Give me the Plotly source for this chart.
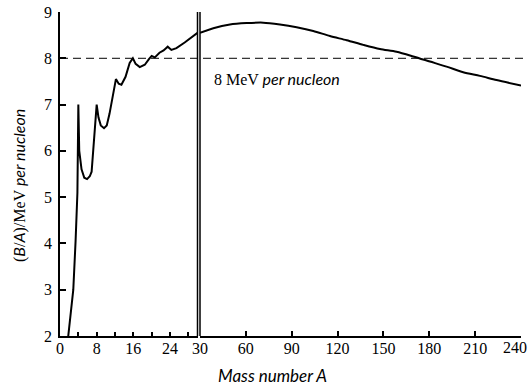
import plotly.graph_objects as go

# ---- data ----
light_A = [1.8, 2.9, 3.4, 3.8, 4.0, 4.2, 4.7, 5.3, 5.9, 6.5, 6.9, 7.6, 8.0, 8.4, 8.9, 9.6,
           10.2, 10.8, 11.6, 12.2, 12.8, 13.4, 14.3, 15.2, 15.9, 16.5, 17.4, 18.5, 19.4,
           20.0, 20.7, 21.7, 22.6, 23.5, 24.3, 25.4, 27.2, 29.0, 30.0]
light_BA = [2.0, 3.0, 4.05, 5.1, 7.0, 6.0, 5.6, 5.42, 5.39, 5.45, 5.55, 6.55, 7.0, 6.72, 6.55, 6.49,
            6.55, 6.8, 7.26, 7.55, 7.45, 7.43, 7.6, 7.9, 8.0, 7.88, 7.81, 7.86, 7.98,
            8.05, 8.02, 8.12, 8.17, 8.25, 8.18, 8.22, 8.34, 8.47, 8.55]

heavy_A = [30, 38.7, 49.6, 60.5, 71.4, 82.3, 93.2, 104.1, 115, 126, 136.8, 147.7, 158.6,
           169.5, 180.4, 191.3, 202.2, 213.1, 224, 240]
heavy_BA = [8.55, 8.65, 8.73, 8.76, 8.77, 8.73, 8.67, 8.59, 8.48, 8.39, 8.29, 8.20, 8.14,
            8.04, 7.93, 7.82, 7.70, 7.62, 7.53, 7.41]

reference_level = 8
left_ticks = [0, 4, 8, 12, 16, 20, 24, 28]
left_labels = ["0", "", "8", "", "16", "", "24", ""]
right_ticks = [30, 60, 90, 120, 150, 180, 210, 240]
right_labels = ["30", "60", "90", "120", "150", "180", "210", ""]   # 240 drawn separately
y_ticks = [2, 3, 4, 5, 6, 7, 8, 9]

SERIF = "Liberation Serif, Times New Roman, serif"
ITAL = "Lato"
TICKSIZE = 16

fig = go.Figure()
fig.add_trace(go.Scatter(x=light_A, y=light_BA, mode="lines", xaxis="x", yaxis="y",
                         line=dict(color="black", width=2), showlegend=False))
fig.add_trace(go.Scatter(x=heavy_A, y=heavy_BA, mode="lines", xaxis="x2", yaxis="y",
                         line=dict(color="black", width=2, shape="spline", smoothing=0.8),
                         showlegend=False))

W, H = 531, 388
L, R, T, B = 60, 10, 12, 52
pw = W - L - R
left_end = (197.5 - L) / pw
right_start = (200 - L) / pw

axis_common = dict(showgrid=False, zeroline=False, showline=True, linecolor="black",
                   linewidth=1.5, ticks="inside", tickcolor="black", tickwidth=1.5,
                   automargin=False,
                   tickfont=dict(family=SERIF, size=TICKSIZE, color="black"))

fig.update_layout(
    width=W, height=H, margin=dict(l=L, r=R, t=T, b=B, autoexpand=False),
    paper_bgcolor="white", plot_bgcolor="white",
    xaxis=dict(domain=[0, left_end], range=[0, 30], anchor="y", ticklabelstandoff=-3,
               tickvals=left_ticks, ticktext=left_labels, ticklen=4, **axis_common),
    xaxis2=dict(domain=[right_start, 1], range=[30, 240], anchor="y", ticklabelstandoff=-3,
                tickvals=right_ticks, ticktext=right_labels, ticklen=5, **axis_common),
    yaxis=dict(domain=[0, 1], range=[2, 9], anchor="x", tickvals=y_ticks, ticklen=6,
               ticklabelstandoff=3, **axis_common),
)

# last tick label of the right axis, kept inside the page
fig.add_annotation(xref="x2", yref="paper", x=right_ticks[-1], y=0, xanchor="right",
                   yanchor="top", xshift=8, yshift=-1, showarrow=False,
                   text=str(right_ticks[-1]),
                   font=dict(family=SERIF, size=TICKSIZE, color="black"))

# double break line at A = 30
for xr, xv in (("x domain", 1), ("x2 domain", 0)):
    fig.add_shape(type="line", xref=xr, x0=xv, x1=xv, yref="y domain", y0=0, y1=1,
                  line=dict(color="black", width=1.5))

# dashed reference level
fig.add_shape(type="line", xref="paper", x0=0, x1=1.005, yref="y",
              y0=reference_level, y1=reference_level,
              line=dict(color="black", width=1, dash="8px,5px"))

ital = lambda s: f'<span style="font-family:{ITAL}"><i>{s}</i></span>'

fig.add_annotation(xref="paper", yref="paper", x=(212 - L) / pw, y=(336 - 78) / 324,
                   xanchor="left", yanchor="middle", showarrow=False,
                   text="8 MeV " + ital("per nucleon"),
                   font=dict(family=SERIF, size=16, color="black"))

fig.add_annotation(xref="paper", yref="paper", x=(272 - L) / pw, y=(336 - 375) / 324,
                   xanchor="center", yanchor="middle", showarrow=False,
                   text=ital("Mass number A"),
                   font=dict(family=ITAL, size=17, color="black"))

fig.add_annotation(xref="paper", yref="paper", x=(19 - L) / pw, y=(336 - 186) / 324,
                   xanchor="center", yanchor="middle", showarrow=False, textangle=-90,
                   text="(" + ital("B") + "/" + ital("A") + ")/MeV " + ital("per nucleon"),
                   font=dict(family=SERIF, size=16, color="black"))

fig.write_html("out.html")
